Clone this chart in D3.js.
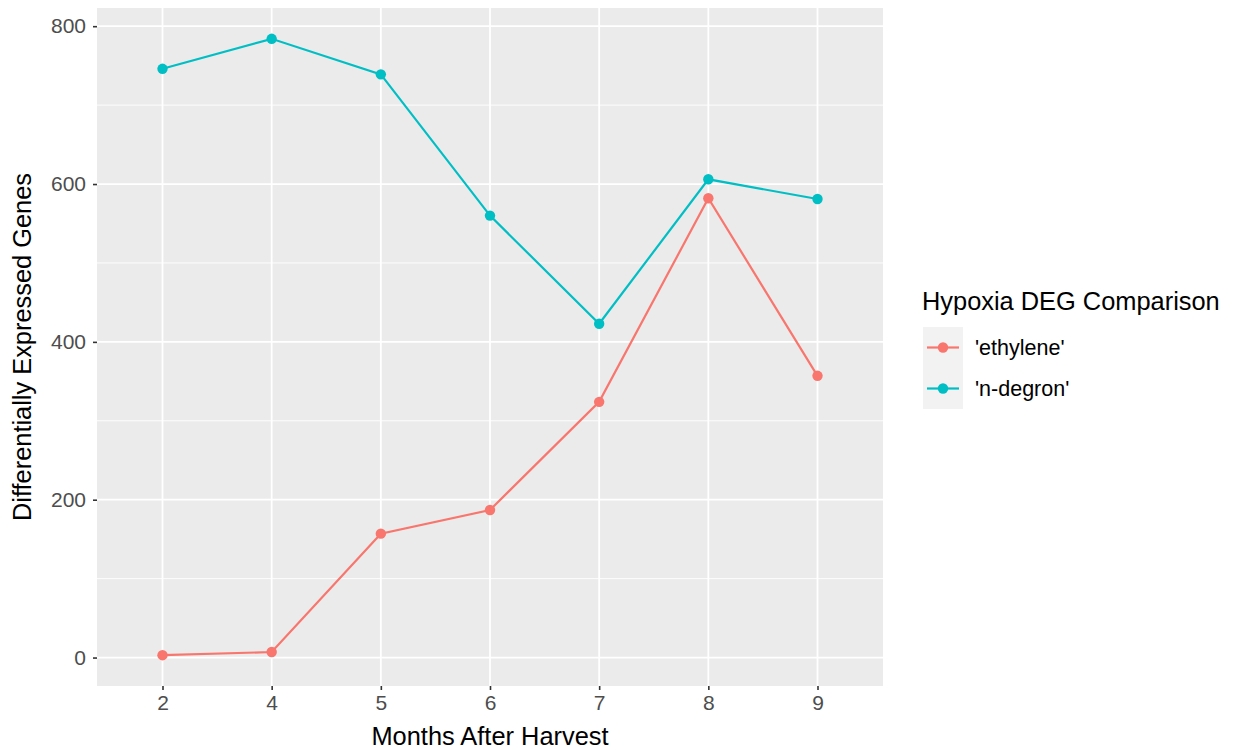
<!DOCTYPE html>
<html>
<head>
<meta charset="utf-8">
<script src="https://cdn.jsdelivr.net/npm/d3@7"></script>
<style>
  html, body { margin: 0; padding: 0; background: #ffffff; }
  svg { display: block; font-family: "Liberation Sans", Arial, sans-serif; }
</style>
</head>
<body>
<svg id="chart" width="1233" height="750"></svg>
<script>
// Months after harvest (discrete categories)
const months = ["2", "4", "5", "6", "7", "8", "9"];
// Number of differentially expressed genes per comparison
const ethylene = [3, 7, 157, 187, 324, 582, 357];
const nDegron = [746, 784, 739, 560, 423, 606, 581];
const seriesNames = ["'ethylene'", "'n-degron'"];
const seriesColors = ["#F8766D", "#00BFC4"];
const yTicks = [0, 200, 400, 600, 800];
const yMinor = [100, 300, 500, 700];

const series = [
  { name: seriesNames[0], color: seriesColors[0], values: ethylene },
  { name: seriesNames[1], color: seriesColors[1], values: nDegron }
];

const svg = d3.select("#chart");
const panel = { left: 97, right: 883, top: 8, bottom: 686 };

const x = d3.scalePoint()
  .domain(months)
  .range([panel.left, panel.right])
  .padding(0.6);

const allVals = ethylene.concat(nDegron);
const lo = d3.min(allVals), hi = d3.max(allVals);
const pad = (hi - lo) * 0.05;
const y = d3.scaleLinear()
  .domain([lo - pad, hi + pad])
  .range([panel.bottom, panel.top]);

// Panel background
svg.append("rect")
  .attr("x", panel.left).attr("y", panel.top)
  .attr("width", panel.right - panel.left)
  .attr("height", panel.bottom - panel.top)
  .attr("fill", "#EBEBEB");

// Grid lines
const grid = svg.append("g");
grid.selectAll("line.minor").data(yMinor).join("line")
  .attr("class", "minor")
  .attr("x1", panel.left).attr("x2", panel.right)
  .attr("y1", d => y(d)).attr("y2", d => y(d))
  .attr("stroke", "#ffffff").attr("stroke-width", 0.9);
grid.selectAll("line.majory").data(yTicks).join("line")
  .attr("class", "majory")
  .attr("x1", panel.left).attr("x2", panel.right)
  .attr("y1", d => y(d)).attr("y2", d => y(d))
  .attr("stroke", "#ffffff").attr("stroke-width", 1.8);
grid.selectAll("line.majorx").data(months).join("line")
  .attr("class", "majorx")
  .attr("y1", panel.top).attr("y2", panel.bottom)
  .attr("x1", d => x(d)).attr("x2", d => x(d))
  .attr("stroke", "#ffffff").attr("stroke-width", 1.8);

// Axes
const yAxis = d3.axisLeft(y).tickValues(yTicks).tickSize(4).tickPadding(7);
const xAxis = d3.axisBottom(x).tickSize(4).tickPadding(5);

const gy = svg.append("g").attr("transform", `translate(${panel.left},0)`).call(yAxis);
const gx = svg.append("g").attr("transform", `translate(0,${panel.bottom})`).call(xAxis);
[gy, gx].forEach(g => {
  g.select(".domain").remove();
  g.selectAll(".tick line").attr("stroke", "#333333").attr("stroke-width", 1.6);
  g.selectAll(".tick text")
    .attr("fill", "#4D4D4D")
    .style("font-size", "21px")
    .style("font-family", "'Liberation Sans', Arial, sans-serif");
});

// Lines and points
const line = d3.line()
  .x((d, i) => x(months[i]))
  .y(d => y(d));

const sg = svg.append("g");
series.forEach(s => {
  sg.append("path")
    .datum(s.values)
    .attr("d", line)
    .attr("fill", "none")
    .attr("stroke", s.color)
    .attr("stroke-width", 2.2);
  sg.selectAll(null).data(s.values).join("circle")
    .attr("cx", (d, i) => x(months[i]))
    .attr("cy", d => y(d))
    .attr("r", 5.2)
    .attr("fill", s.color);
});

// Axis titles
svg.append("text")
  .attr("x", (panel.left + panel.right) / 2)
  .attr("y", 745)
  .attr("text-anchor", "middle")
  .attr("fill", "#000000")
  .style("font-size", "25.4px")
  .text("Months After Harvest");

svg.append("text")
  .attr("transform", `translate(31,${(panel.top + panel.bottom) / 2}) rotate(-90)`)
  .attr("text-anchor", "middle")
  .attr("fill", "#000000")
  .style("font-size", "25.4px")
  .text("Differentially Expressed Genes");

// Legend
const legend = svg.append("g").attr("transform", "translate(922,0)");
legend.append("text")
  .attr("x", 0).attr("y", 310)
  .attr("fill", "#000000")
  .style("font-size", "25.4px")
  .text("Hypoxia DEG Comparison");

const keyH = 41;
legend.append("rect")
  .attr("x", 1).attr("y", 327)
  .attr("width", 40).attr("height", keyH * series.length)
  .attr("fill", "#F2F2F2");

series.forEach((s, i) => {
  const cy = 327 + keyH * i + keyH / 2;
  legend.append("line")
    .attr("x1", 5).attr("x2", 37)
    .attr("y1", cy).attr("y2", cy)
    .attr("stroke", s.color).attr("stroke-width", 2.2);
  legend.append("circle")
    .attr("cx", 21).attr("cy", cy).attr("r", 5.2)
    .attr("fill", s.color);
  legend.append("text")
    .attr("x", 53).attr("y", cy + 7)
    .attr("fill", "#000000")
    .style("font-size", "21.5px")
    .text(s.name);
});
</script>
</body>
</html>
